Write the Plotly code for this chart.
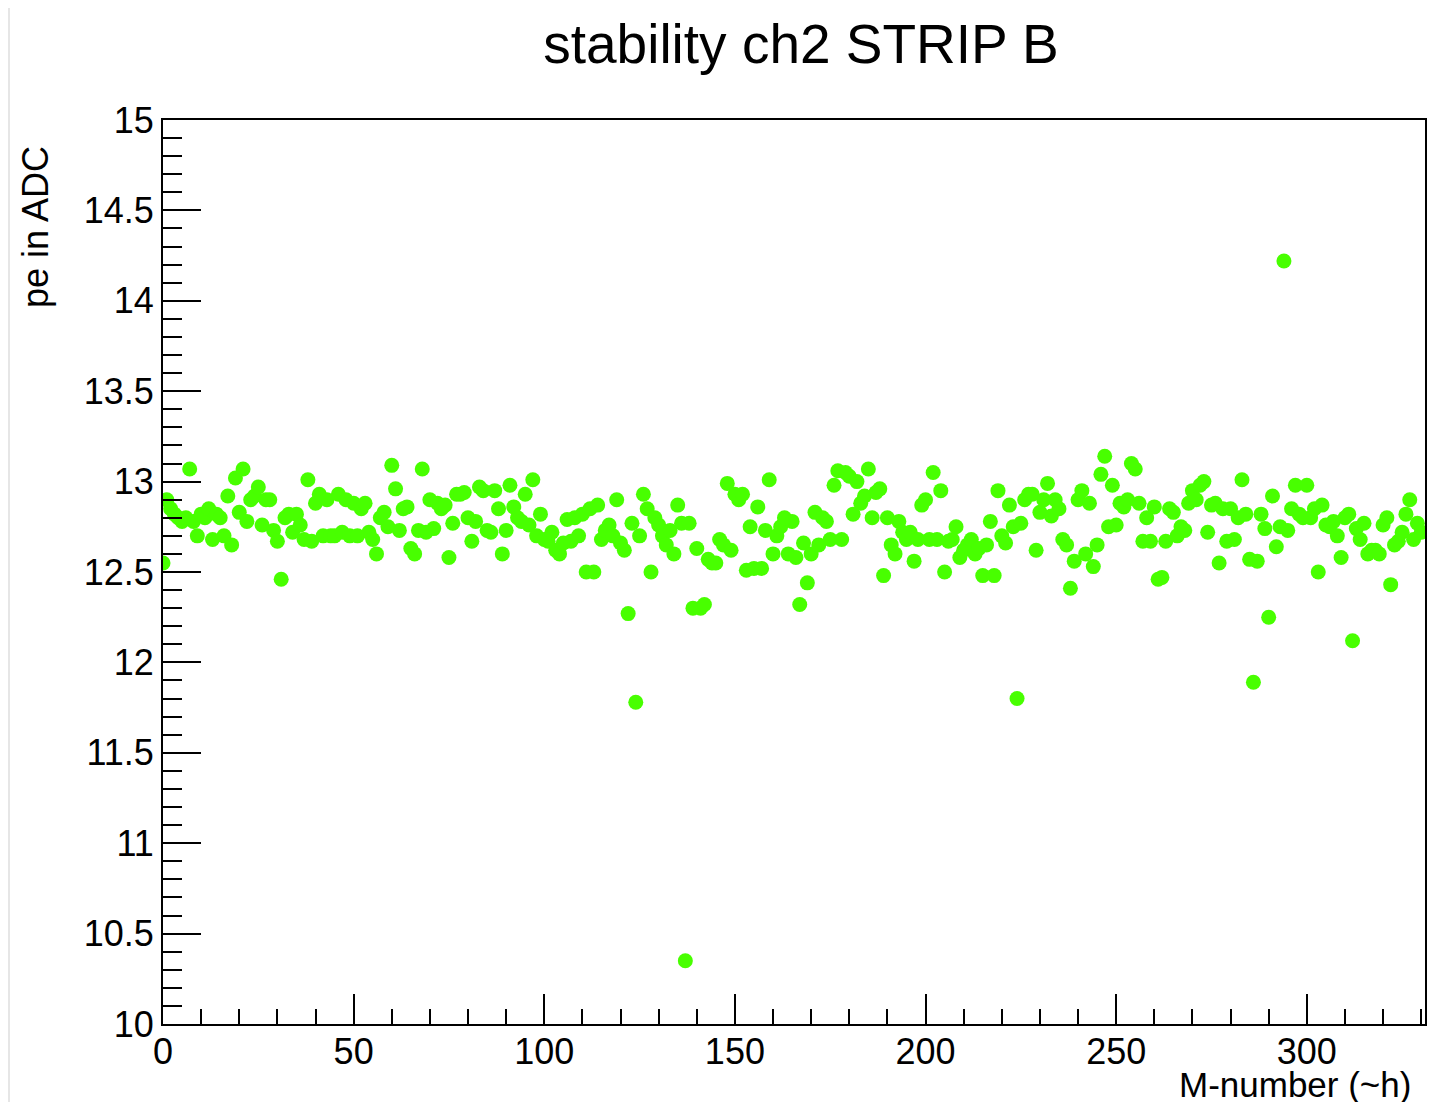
import plotly.graph_objects as go

title_text = "stability ch2 STRIP B"
x_title = "M-number (~h)"
y_title = "pe in ADC"

m_number = list(range(0, 331))
pe_adc = [
    12.55, 12.90, 12.85, 12.82, 12.80, 12.78, 12.80, 13.07, 12.78, 12.70,
    12.82, 12.80, 12.85, 12.68, 12.82, 12.80, 12.70, 12.92, 12.65, 13.02,
    12.83, 13.07, 12.78, 12.90, 12.92, 12.97, 12.76, 12.90, 12.90, 12.73,
    12.67, 12.46, 12.80, 12.82, 12.72, 12.82, 12.76, 12.68, 13.01, 12.67,
    12.88, 12.93, 12.70, 12.90, 12.70, 12.70, 12.93, 12.72, 12.90, 12.70,
    12.88, 12.70, 12.85, 12.88, 12.72, 12.68, 12.60, 12.80, 12.83, 12.75,
    13.09, 12.96, 12.73, 12.85, 12.86, 12.63, 12.60, 12.73, 13.07, 12.72,
    12.90, 12.74, 12.88, 12.85, 12.87, 12.58, 12.77, 12.93, 12.93, 12.94,
    12.80, 12.67, 12.78, 12.97, 12.95, 12.73, 12.72, 12.95, 12.85, 12.60,
    12.73, 12.98, 12.86, 12.80, 12.78, 12.93, 12.76, 13.01, 12.70, 12.82,
    12.68, 12.67, 12.72, 12.62, 12.60, 12.66, 12.79, 12.67, 12.80, 12.70,
    12.82, 12.50, 12.85, 12.50, 12.87, 12.68, 12.73, 12.76, 12.70, 12.90,
    12.66, 12.62, 12.27, 12.77, 11.78, 12.70, 12.93, 12.85, 12.50, 12.80,
    12.76, 12.70, 12.65, 12.73, 12.60, 12.87, 12.77, 10.35, 12.77, 12.30,
    12.63, 12.30, 12.32, 12.57, 12.55, 12.55, 12.68, 12.65, 12.99, 12.62,
    12.93, 12.90, 12.93, 12.51, 12.75, 12.52, 12.86, 12.52, 12.73, 13.01,
    12.60, 12.70, 12.75, 12.80, 12.60, 12.78, 12.58, 12.32, 12.66, 12.44,
    12.60, 12.83, 12.65, 12.80, 12.78, 12.68, 12.98, 13.06, 12.68, 13.05,
    13.03, 12.82, 13.00, 12.88, 12.92, 13.07, 12.80, 12.94, 12.96, 12.48,
    12.80, 12.65, 12.60, 12.78, 12.72, 12.68, 12.72, 12.56, 12.68, 12.87,
    12.90, 12.68, 13.05, 12.68, 12.95, 12.50, 12.67, 12.68, 12.75, 12.58,
    12.62, 12.65, 12.68, 12.60, 12.63, 12.48, 12.65, 12.78, 12.48, 12.95,
    12.70, 12.66, 12.87, 12.75, 11.80, 12.77, 12.90, 12.93, 12.93, 12.62,
    12.83, 12.90, 12.99, 12.81, 12.90, 12.85, 12.68, 12.65, 12.41, 12.56,
    12.90, 12.95, 12.60, 12.88, 12.53, 12.65, 13.04, 13.14, 12.75, 12.98,
    12.76, 12.88, 12.86, 12.90, 13.10, 13.07, 12.88, 12.67, 12.80, 12.67,
    12.86, 12.46, 12.47, 12.67, 12.85, 12.83, 12.70, 12.75, 12.73, 12.88,
    12.95, 12.90, 12.98, 13.00, 12.72, 12.87, 12.88, 12.55, 12.85, 12.67,
    12.85, 12.68, 12.80, 13.01, 12.82, 12.57, 11.89, 12.56, 12.82, 12.74,
    12.25, 12.92, 12.64, 12.75, 14.22, 12.73, 12.85, 12.98, 12.82, 12.80,
    12.98, 12.80, 12.85, 12.50, 12.87, 12.76, 12.75, 12.78, 12.70, 12.58,
    12.80, 12.82, 12.12, 12.74, 12.68, 12.77, 12.60, 12.62, 12.62, 12.60,
    12.76, 12.80, 12.43, 12.65, 12.67, 12.72, 12.82, 12.90, 12.68, 12.77,
    12.72,
]

x_range = [0, 331]
y_range = [10, 15]

FONT = "Liberation Sans, Arial, Helvetica, sans-serif"
OFF = 8  # page body offset

fig = go.Figure()
fig.add_trace(go.Scatter(
    x=m_number, y=pe_adc, mode="markers",
    marker=dict(color="#48ff00", size=15, symbol="circle", line=dict(width=0)),
    showlegend=False,
))

# target plot area on screen: x 163..1425, y 120..1024
L, R, T, B = 163, 1425, 120, 1024
W, H = R - L, B - T

def px(xp):
    return (xp - L) / W

def py(yp):
    return (B - yp) / H

fig.add_shape(type="rect", xref="paper", yref="paper",
              x0=px(10), x1=px(1470), y0=py(1120), y1=py(5),
              fillcolor="white", line=dict(width=0), layer="below")

fig.update_layout(
    width=1454, height=1102,
    margin=dict(l=L - OFF, r=1454 - (L - OFF) - W, t=T - OFF, b=1102 - (T - OFF) - H, pad=0),
    paper_bgcolor="#e6e6e6",
    plot_bgcolor="white",
    font=dict(family=FONT, color="black", size=36),
    title=dict(text=title_text, x=(801 - OFF) / 1454, xanchor="center",
               y=1 - (44 - OFF) / 1102, yanchor="middle",
               font=dict(size=55, family=FONT, color="black")),
    xaxis=dict(range=x_range, showgrid=False, zeroline=False,
               showline=True, linecolor="black", linewidth=2, mirror=True,
               ticks="inside", ticklen=30, tickwidth=2, tickcolor="black",
               tick0=0, dtick=50, tickfont=dict(size=36), ticklabelstandoff=-5,
               minor=dict(ticks="inside", ticklen=15, tickwidth=2, tickcolor="black", dtick=10)),
    yaxis=dict(range=y_range, showgrid=False, zeroline=False,
               showline=True, linecolor="black", linewidth=2, mirror=True,
               ticks="inside", ticklen=38, tickwidth=2, tickcolor="black",
               tick0=10, dtick=0.5, tickfont=dict(size=36),
               minor=dict(ticks="inside", ticklen=19, tickwidth=2, tickcolor="black", dtick=0.1)),
    annotations=[
        dict(text=y_title, xref="paper", yref="paper", x=px(35), y=py(227),
             xanchor="center", yanchor="middle", textangle=-90, showarrow=False,
             font=dict(size=36, family=FONT, color="black")),
        dict(text=x_title, xref="paper", yref="paper", x=px(1413), y=py(1084),
             xanchor="right", yanchor="middle", showarrow=False,
             font=dict(size=35, family=FONT, color="black")),
    ],
)

fig.write_html("out.html")
